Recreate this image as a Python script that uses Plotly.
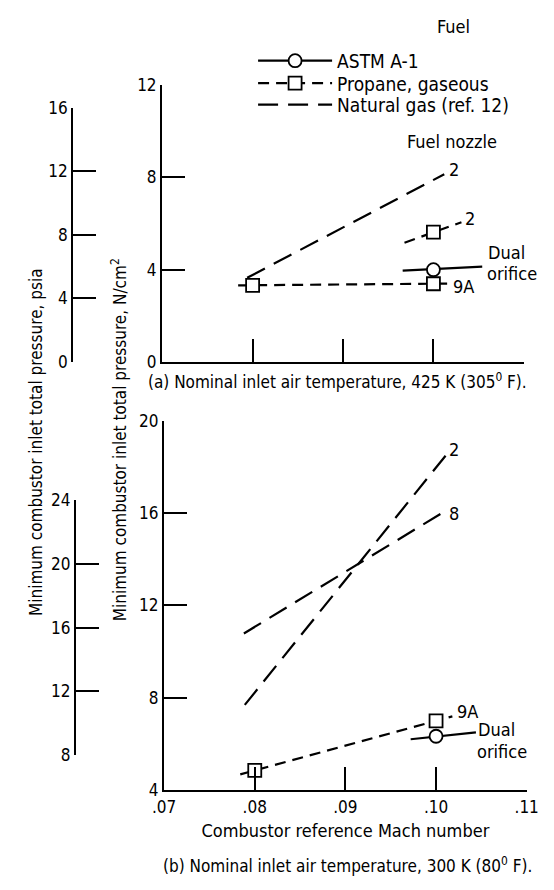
import plotly.graph_objects as go

FONT = "DejaVu Sans Condensed, Liberation Sans Narrow, Arial Narrow, sans-serif"
FS = 17

# ---------------- axis ticks ----------------
mach_ticks = [0.07, 0.08, 0.09, 0.10, 0.11]
mach_labels = [".07", ".08", ".09", ".10", ".11"]
ncm_ticks_a = [0, 4, 8, 12]
psia_ticks_a = [0, 4, 8, 12, 16]
ncm_ticks_b = [4, 8, 12, 16, 20]
psia_ticks_b = [8, 12, 16, 20, 24]

# ---------------- (a) 425 K ----------------
a_astm_line_x = [0.0966, 0.1054]
a_astm_line_y = [3.96, 4.13]
a_astm_pt_x = [0.10]
a_astm_pt_y = [4.0]

a_prop9a_line_x = [0.0784, 0.1022]
a_prop9a_line_y = [3.32, 3.40]
a_prop9a_pt_x = [0.08, 0.10]
a_prop9a_pt_y = [3.32, 3.39]

a_prop2_line_x = [0.0968, 0.1031]
a_prop2_line_y = [5.17, 6.06]
a_prop2_pt_x = [0.10]
a_prop2_pt_y = [5.63]

a_gas2_x = [0.0794, 0.1012]
a_gas2_y = [3.65, 8.14]

# ---------------- (b) 300 K ----------------
b_gas2_x = [0.0789, 0.1013]
b_gas2_y = [7.69, 18.6]
b_gas8_x = [0.0788, 0.1010]
b_gas8_y = [10.78, 16.08]

b_prop9a_line_x = [0.0784, 0.1018]
b_prop9a_line_y = [4.68, 7.19]
b_prop9a_pt_x = [0.08, 0.10]
b_prop9a_pt_y = [4.85, 7.0]

b_astm_line_x = [0.0972, 0.1044]
b_astm_line_y = [6.2, 6.5]
b_astm_pt_x = [0.10]
b_astm_pt_y = [6.33]

# nozzle labels
a_lab_text = ["2", "2", "Dual", "orifice", "9A"]
a_lab_x = [0.1023, 0.1040, 0.1081, 0.1087, 0.1033]
a_lab_y = [8.35, 6.23, 4.75, 3.82, 3.27]
b_lab_text = ["2", "8", "9A", "Dual", "orifice"]
b_lab_x = [0.1020, 0.1020, 0.1035, 0.1067, 0.1073]
b_lab_y = [18.73, 15.98, 7.39, 6.62, 5.69]

# legend
fuel_names = ["ASTM A-1", "Propane, gaseous", "Natural gas (ref. 12)"]

BLACK = "black"
SOLID = dict(color=BLACK, width=2.2)
PROP = dict(color=BLACK, width=2.2, dash="11px,7px")
GAS = dict(color=BLACK, width=2.2, dash="20px,10px")
CIRC = dict(symbol="circle", size=13, color="white", line=dict(color=BLACK, width=1.8))
SQR = dict(symbol="square", size=13, color="white", line=dict(color=BLACK, width=1.8))

fig = go.Figure()


def line(x, y, style, xa, ya):
    fig.add_trace(go.Scatter(x=x, y=y, mode="lines", line=style, xaxis=xa, yaxis=ya,
                             showlegend=False, hoverinfo="skip"))


def pts(x, y, m, xa, ya):
    fig.add_trace(go.Scatter(x=x, y=y, mode="markers", marker=m, xaxis=xa, yaxis=ya,
                             showlegend=False, hoverinfo="skip"))


# psia axes carriers (drawn first, transparent)
fig.add_trace(go.Scatter(x=[], y=[], xaxis="x", yaxis="y3", showlegend=False))
fig.add_trace(go.Scatter(x=[], y=[], xaxis="x2", yaxis="y4", showlegend=False))

# panel (a)
line(a_gas2_x, a_gas2_y, GAS, "x", "y")
line(a_prop9a_line_x, a_prop9a_line_y, PROP, "x", "y")
line(a_prop2_line_x, a_prop2_line_y, PROP, "x", "y")
line(a_astm_line_x, a_astm_line_y, SOLID, "x", "y")
pts(a_prop9a_pt_x, a_prop9a_pt_y, SQR, "x", "y")
pts(a_prop2_pt_x, a_prop2_pt_y, SQR, "x", "y")
pts(a_astm_pt_x, a_astm_pt_y, CIRC, "x", "y")

# panel (b)
line(b_gas2_x, b_gas2_y, GAS, "x2", "y2")
line(b_gas8_x, b_gas8_y, GAS, "x2", "y2")
line(b_prop9a_line_x, b_prop9a_line_y, PROP, "x2", "y2")
line(b_astm_line_x, b_astm_line_y, SOLID, "x2", "y2")
pts(b_prop9a_pt_x, b_prop9a_pt_y, SQR, "x2", "y2")
pts(b_astm_pt_x, b_astm_pt_y, CIRC, "x2", "y2")

# legend-only entries, one legend each for exact row placement
fig.add_trace(go.Scatter(x=[None], y=[None], mode="lines+markers", line=SOLID, marker=CIRC,
                         name=fuel_names[0], xaxis="x", yaxis="y", legend="legend"))
fig.add_trace(go.Scatter(x=[None], y=[None], mode="lines+markers", line=PROP, marker=SQR,
                         name=fuel_names[1], xaxis="x", yaxis="y", legend="legend2"))
fig.add_trace(go.Scatter(x=[None], y=[None], mode="lines", line=GAS,
                         name=fuel_names[2], xaxis="x", yaxis="y", legend="legend3"))

axcommon = dict(showgrid=False, zeroline=False, showline=True, linecolor=BLACK, linewidth=2.4,
                ticks="inside", ticklen=23, tickwidth=2, tickcolor=BLACK,
                tickfont=dict(family=FONT, size=FS, color=BLACK))

W, H = 554, 890


def leg(ypx):
    return dict(x=252 / W, y=1 - ypx / H, xanchor="left", yanchor="middle", itemwidth=74,
                bgcolor="rgba(0,0,0,0)", font=dict(family=FONT, size=19, color=BLACK))


fig.update_layout(
    width=W, height=H, margin=dict(l=0, r=0, t=0, b=0),
    paper_bgcolor="white", plot_bgcolor="rgba(0,0,0,0)",
    font=dict(family=FONT, size=FS, color=BLACK),
    xaxis=dict(domain=[157 / W, 535 / W], range=[0.07, 0.11], anchor="y",
               tickvals=mach_ticks, showticklabels=False, **axcommon),
    yaxis=dict(domain=[530 / H, 813 / H], range=[0, 12], anchor="x",
               tickvals=ncm_ticks_a, **axcommon),
    xaxis2=dict(domain=[159 / W, 538 / W], range=[0.07, 0.11], anchor="y2",
                tickvals=mach_ticks, ticktext=mach_labels,
                title=dict(text="Combustor reference Mach number", standoff=9,
                           font=dict(family=FONT, size=18, color=BLACK)),
                **axcommon),
    yaxis2=dict(domain=[92 / H, 470 / H], range=[4, 20], anchor="x2",
                tickvals=ncm_ticks_b, **axcommon),
    yaxis3=dict(domain=[530 / H, 790 / H], range=[0, 16], anchor="free", position=63 / W,
                tickvals=psia_ticks_a, **axcommon),
    yaxis4=dict(domain=[127.8 / H, 388.4 / H], range=[8, 24], anchor="free", position=66 / W,
                tickvals=psia_ticks_b, **axcommon),
    legend=leg(52), legend2=leg(75), legend3=leg(97),
)

C = dict(xanchor="center", yanchor="middle", showarrow=False)
ann = []
ann.append(dict(text="Fuel", x=462 / W, y=1 - 17 / H, xref="paper", yref="paper",
                font=dict(size=18), **C))
ann.append(dict(text="Fuel nozzle", x=460 / W, y=1 - 135 / H, xref="paper", yref="paper",
                font=dict(size=18), **C))
ann.append(dict(text="(a) Nominal inlet air temperature, 425 K (305<sup>0</sup> F).",
                x=340 / W, y=1 - 380 / H, xref="paper", yref="paper", **C))
ann.append(dict(text="(b) Nominal inlet air temperature, 300 K (80<sup>0</sup> F).",
                x=351 / W, y=1 - 875 / H, xref="paper", yref="paper", **C))
ann.append(dict(text="Minimum combustor inlet total pressure, psia", textangle=-90,
                x=25 / W, y=1 - 442 / H, xref="paper", yref="paper", **C))
ann.append(dict(text="Minimum combustor inlet total pressure, N/cm<sup>2</sup>", textangle=-90,
                x=112 / W, y=1 - 440 / H, xref="paper", yref="paper", **C))
for t, x, y in zip(a_lab_text, a_lab_x, a_lab_y):
    ann.append(dict(text=t, x=x, y=y, xref="x", yref="y", font=dict(size=18), **C))
for t, x, y in zip(b_lab_text, b_lab_x, b_lab_y):
    ann.append(dict(text=t, x=x, y=y, xref="x2", yref="y2", font=dict(size=18), **C))
fig.update_layout(annotations=ann)

fig.write_html("out.html")
